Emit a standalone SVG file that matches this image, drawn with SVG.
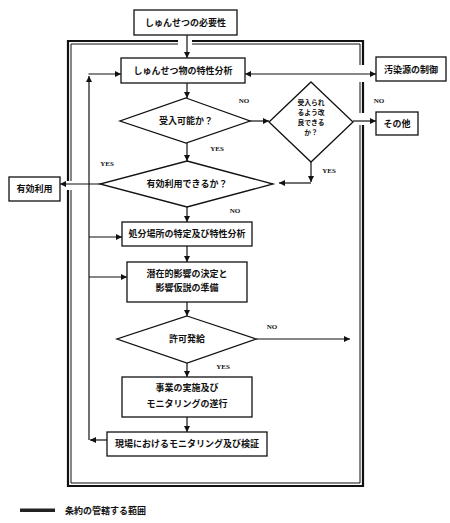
<svg xmlns="http://www.w3.org/2000/svg" width="450" height="523" viewBox="0 0 450 523">
<defs>
<marker id="ah" viewBox="0 0 10 10" refX="10" refY="5" markerWidth="6" markerHeight="6" markerUnits="userSpaceOnUse" orient="auto-start-reverse">
<path d="M0,0 L10,5 L0,10 z" fill="#111"/>
</marker>
</defs>
<style>
.box{fill:#fff;stroke:#111;stroke-width:1.3}
.t{font-family:"Noto Sans CJK JP","Noto Sans CJK SC",sans-serif;font-size:9px;font-weight:bold;fill:#111;text-anchor:middle}
.ts{font-family:"Noto Sans CJK JP","Noto Sans CJK SC",sans-serif;font-size:6.8px;font-weight:bold;fill:#111;text-anchor:middle}
.lbl{font-family:"Liberation Serif",serif;font-size:7px;font-weight:bold;fill:#111;text-anchor:middle}
.c{fill:none;stroke:#111;stroke-width:1.2;marker-end:url(#ah)}
.fo{fill:none;stroke:#111;stroke-width:2.2}
.fi{fill:none;stroke:#111;stroke-width:1}
</style>
<rect width="450" height="523" fill="#fff"/>
<g id="frame">
<path class="fo" d="M178,41 H68 V181 M68,190 V486 H363 V125 M363,113 V82 M363,65 V41 H192"/>
<path class="fi" d="M178,44 H71 V181 M71,190 V483 H360 V125 M360,113 V82 M360,65 V44 H192"/>
</g>
<g id="connectors">
<line class="c" x1="187" y1="35" x2="187" y2="58"/>
<line class="c" x1="245" y1="74" x2="376" y2="74" style="marker-start:url(#ah)"/>
<line class="c" x1="187" y1="83" x2="187" y2="98"/>
<line class="c" x1="250" y1="121" x2="269" y2="121"/>
<line class="c" x1="353" y1="121" x2="376" y2="121"/>
<line class="c" x1="311" y1="162" x2="311" y2="182"/>
<line class="c" x1="311" y1="183" x2="279" y2="183"/>
<line class="c" x1="187" y1="143" x2="187" y2="161"/>
<line class="c" x1="100" y1="184" x2="60" y2="184"/>
<line class="c" x1="187" y1="207" x2="187" y2="222"/>
<line class="c" x1="187" y1="246" x2="187" y2="262"/>
<line class="c" x1="187" y1="302" x2="187" y2="316"/>
<line class="c" x1="256" y1="339" x2="350" y2="339"/>
<line class="c" x1="187" y1="363" x2="187" y2="377"/>
<line class="c" x1="187" y1="417" x2="187" y2="432"/>
<line class="c" x1="107" y1="440" x2="90" y2="440"/>
<line class="c" x1="89" y1="440" x2="89" y2="76"/>
<line class="c" x1="88.4" y1="74" x2="121" y2="74"/>
<line class="c" x1="89" y1="237" x2="122" y2="237"/>
<line class="c" x1="89" y1="277" x2="127" y2="277"/>
</g>
<g id="labels">
<text class="lbl" x="244" y="102.5">NO</text>
<text class="lbl" x="379" y="102.5">NO</text>
<text class="lbl" x="217" y="150.5">YES</text>
<text class="lbl" x="329" y="172.5">YES</text>
<text class="lbl" x="107" y="165.5">YES</text>
<text class="lbl" x="235" y="212.5">NO</text>
<text class="lbl" x="272" y="328.5">NO</text>
<text class="lbl" x="223" y="368.5">YES</text>
</g>
<g id="n1"><rect class="box" x="134" y="10" width="103" height="25"/><text class="t" x="185.5" y="26">しゅんせつの必要性</text></g>
<g id="n2"><rect class="box" x="121" y="58" width="124" height="25"/><text class="t" x="183" y="74">しゅんせつ物の特性分析</text></g>
<g id="n3"><rect class="box" x="376" y="57" width="70" height="24"/><text class="t" x="411" y="72.5">汚染源の制御</text></g>
<g id="d1"><polygon class="box" points="186,98 250,121 186,143 120,121"/><text class="t" x="186" y="124">受入可能か？</text></g>
<g id="d2"><polygon class="box" points="311,82 353,122 311,162 269,122"/>
<text class="ts" x="311" y="105">受入られ</text>
<text class="ts" x="311" y="115">るよう改</text>
<text class="ts" x="311" y="125">良できる</text>
<text class="ts" x="311" y="135">か？</text></g>
<g id="n4"><rect class="box" x="376" y="112" width="42" height="23"/><text class="t" x="397" y="127">その他</text></g>
<g id="d3"><polygon class="box" points="187,161 273,184 187,207 100,184"/><text class="t" x="187" y="187">有効利用できるか？</text></g>
<g id="n5"><rect class="box" x="9" y="177" width="51" height="24"/><text class="t" x="34.5" y="192">有効利用</text></g>
<g id="n6"><rect class="box" x="122" y="222" width="130" height="24"/><text class="t" x="187" y="237">処分場所の特定及び特性分析</text></g>
<g id="n7"><rect class="box" x="127" y="262" width="120" height="40"/><text class="t" x="187" y="277">潜在的影響の決定と</text><text class="t" x="187" y="291">影響仮説の準備</text></g>
<g id="d4"><polygon class="box" points="187,316 256,339 187,363 117,339"/><text class="t" x="187" y="342">許可発給</text></g>
<g id="n8"><rect class="box" x="122" y="377" width="130" height="40"/><text class="t" x="187" y="391">事業の実施及び</text><text class="t" x="187" y="407">モニタリングの遂行</text></g>
<g id="n9"><rect class="box" x="107" y="432" width="160" height="24"/><text class="t" x="187" y="447">現場におけるモニタリング及び検証</text></g>
<g id="legend">
<rect x="20" y="508.5" width="35" height="3.5" fill="#222"/>
<text class="t" x="65" y="513.5" style="text-anchor:start">条約の管轄する範囲</text>
</g>
</svg>
